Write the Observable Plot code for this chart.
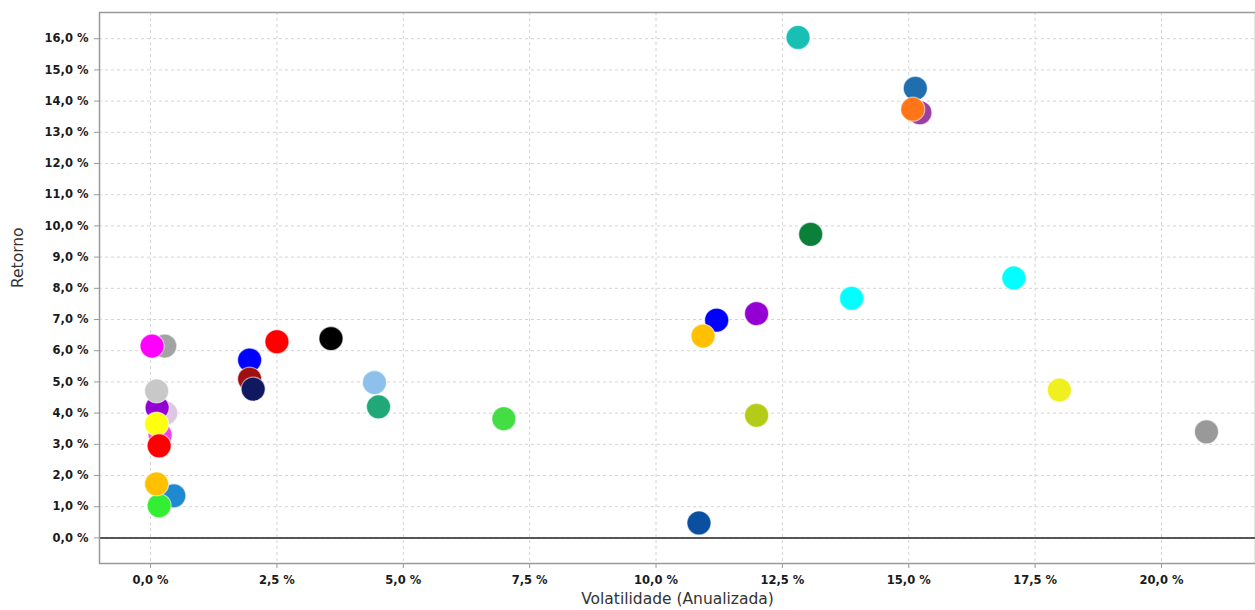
<!DOCTYPE html>
<html>
<head>
<meta charset="utf-8">
<script src="https://cdn.jsdelivr.net/npm/d3@7"></script>
<script src="https://cdn.jsdelivr.net/npm/@observablehq/plot@0.6"></script>
<style>
  html, body { margin: 0; padding: 0; background: #fff; }
  #chart { width: 1255px; height: 610px; }
</style>
</head>
<body>
<div id="chart"></div>
<script>
// Volatility (annualized, %) per asset
const volatilidade = [0.28, 0.03, 0.30, 0.13, 0.12, 0.19, 0.12, 0.17, 0.46, 0.17, 0.12,
  2.50, 3.57, 1.96, 1.96, 2.03, 4.43, 4.51, 6.99,
  11.20, 10.93, 11.99, 13.87, 11.99, 12.81, 15.13, 15.22, 15.08, 13.06, 17.08, 17.98, 20.89, 10.85];
// Return (%) per asset
const retorno = [6.15, 6.15, 4.00, 4.17, 4.71, 3.30, 3.65, 2.95, 1.35, 1.03, 1.73,
  6.29, 6.39, 5.70, 5.09, 4.77, 4.98, 4.20, 3.82,
  6.98, 6.47, 7.19, 7.68, 3.93, 16.04, 14.41, 13.63, 13.74, 9.73, 8.33, 4.74, 3.40, 0.48];
// Marker colours per asset
const cores = ["#a3a3a3", "#ff00ff", "#dcc8e0", "#9400d3", "#c8c8c8", "#ee44ee", "#ffff10", "#ff0000", "#1e88d0", "#33ee33", "#ffc000",
  "#ff0000", "#000000", "#0000ff", "#a01010", "#101860", "#8ec0ec", "#20a878", "#44dd44",
  "#0000ff", "#ffc000", "#9400d3", "#00ffff", "#b4cc18", "#18c0b4", "#1f6faf", "#9b3fa0", "#ff7518", "#0a803a", "#00ffff", "#f0f020", "#999999", "#0b4fa0"];

const xTicks = [0, 2.5, 5, 7.5, 10, 12.5, 15, 17.5, 20];
const yTicks = d3.range(0, 17, 1);

const data = volatilidade.map((v, i) => ({x: v, y: retorno[i], c: cores[i]}));
const fmt = d => d.toFixed(1).replace(".", ",") + " %";

const chart = Plot.plot({
  width: 1255,
  height: 610,
  marginLeft: 99,
  marginRight: 0,
  marginTop: 12,
  marginBottom: 47,
  style: {fontFamily: "DejaVu Sans", fontSize: "11.5px", fontWeight: "bold", color: "#1a1a1a", background: "#fff"},
  x: {domain: [-1.01, 21.86], label: null},
  y: {domain: [-0.82, 16.84], label: null},
  marks: [
    Plot.gridX(xTicks, {stroke: "#d4d4d4", strokeOpacity: 1, strokeDasharray: "3,3"}),
    Plot.gridY(yTicks, {stroke: "#d4d4d4", strokeOpacity: 1, strokeDasharray: "3,3"}),
    Plot.ruleY([0], {stroke: "#222", strokeWidth: 1.5}),
    Plot.frame({stroke: "#9a9a9a", strokeWidth: 1.5}),
    Plot.axisX({ticks: xTicks, tickFormat: fmt, tickSize: 5, tickPadding: 7, stroke: "#999", label: null}),
    Plot.axisY({ticks: yTicks, tickFormat: fmt, tickSize: 5, tickPadding: 6, stroke: "#999", label: null}),
    Plot.dot(data, {x: "x", y: "y", r: 12, fill: d => d.c, stroke: "#ffffff", strokeOpacity: 0.55, strokeWidth: 1.2}),
    Plot.text(["Volatilidade (Anualizada)"], {frameAnchor: "bottom", dy: 40, fontSize: 15.5, fontWeight: "normal", fill: "#333"}),
    Plot.text(["Retorno"], {frameAnchor: "left", dx: -81, rotate: -90, fontSize: 15.5, fontWeight: "normal", fill: "#333"})
  ]
});
document.getElementById("chart").appendChild(chart);
</script>
</body>
</html>
